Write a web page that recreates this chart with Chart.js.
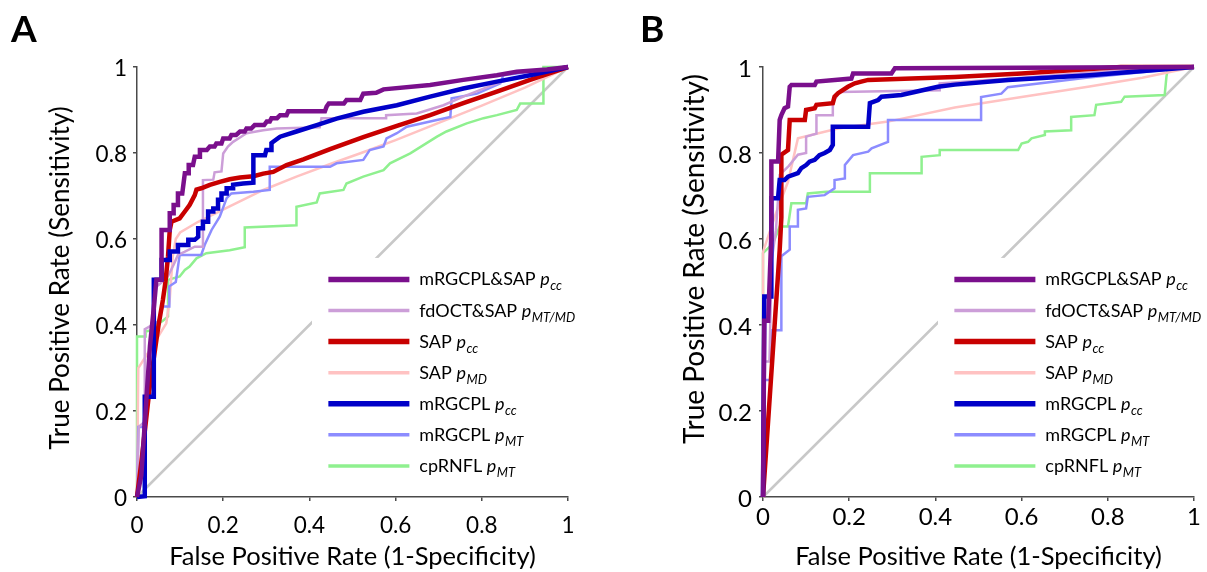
<!DOCTYPE html>
<html>
<head>
<meta charset="utf-8">
<script src="https://cdn.jsdelivr.net/npm/chart.js@4/dist/chart.umd.min.js"></script>
<style>
  html, body { margin: 0; padding: 0; background: #fff; }
  #wrap { position: relative; width: 1207px; height: 572px; overflow: hidden; }
  canvas { position: absolute; top: 0; }
</style>
</head>
<body>
<div id="wrap">
  <canvas id="chartA" width="603" height="572" style="left:0"></canvas>
  <canvas id="chartB" width="604" height="572" style="left:603px"></canvas>
</div>
<script>
// ---- data: [FPR, TPR] vertices ----
const tickLabels = ['0', '0.2', '0.4', '0.6', '0.8', '1'];
const legendNames = ['mRGCPL&SAP', 'fdOCT&SAP', 'SAP', 'SAP', 'mRGCPL', 'mRGCPL', 'cpRNFL'];
const legendSubs = ['cc', 'MT/MD', 'cc', 'MD', 'cc', 'MT', 'MT'];
const chance = [[0, 0], [1, 1]];

// panel A
const A_mrgcplSapPcc = [[0,0],[0.01,0.05],[0.02,0.2],[0.03,0.35],[0.04,0.45],[0.045,0.505],[0.057,0.505],[0.057,0.621],[0.076,0.621],[0.076,0.66],[0.085,0.66],[0.085,0.679],[0.095,0.679],[0.095,0.706],[0.105,0.706],[0.111,0.753],[0.12,0.753],[0.12,0.772],[0.13,0.772],[0.134,0.791],[0.146,0.791],[0.146,0.807],[0.162,0.807],[0.169,0.815],[0.18,0.815],[0.184,0.822],[0.196,0.822],[0.2,0.834],[0.215,0.834],[0.219,0.842],[0.23,0.842],[0.239,0.85],[0.25,0.85],[0.254,0.857],[0.265,0.857],[0.273,0.865],[0.295,0.865],[0.301,0.873],[0.308,0.873],[0.312,0.881],[0.325,0.881],[0.332,0.888],[0.347,0.888],[0.351,0.897],[0.436,0.897],[0.44,0.908],[0.445,0.915],[0.48,0.915],[0.486,0.923],[0.518,0.923],[0.525,0.938],[0.555,0.94],[0.572,0.948],[0.68,0.958],[0.757,0.97],[0.835,0.981],[0.881,0.989],[0.951,0.994],[1,1]];
const A_fdoctSapPmtmd = [[0,0],[0.004,0.163],[0.018,0.175],[0.018,0.39],[0.035,0.4],[0.04,0.46],[0.045,0.489],[0.07,0.51],[0.085,0.54],[0.095,0.563],[0.11,0.57],[0.134,0.582],[0.153,0.582],[0.153,0.737],[0.177,0.738],[0.18,0.755],[0.196,0.757],[0.2,0.799],[0.211,0.815],[0.223,0.826],[0.239,0.836],[0.254,0.846],[0.293,0.853],[0.324,0.857],[0.424,0.86],[0.428,0.881],[0.578,0.881],[0.578,0.888],[0.649,0.892],[0.711,0.911],[0.757,0.931],[0.835,0.962],[0.912,0.984],[1,1]];
const A_sapPcc = [[0,0],[0.01,0.08],[0.02,0.17],[0.03,0.26],[0.04,0.33],[0.05,0.4],[0.06,0.458],[0.066,0.5],[0.072,0.56],[0.076,0.621],[0.08,0.64],[0.099,0.648],[0.111,0.664],[0.122,0.679],[0.134,0.702],[0.138,0.715],[0.149,0.718],[0.169,0.726],[0.192,0.733],[0.215,0.739],[0.239,0.743],[0.27,0.746],[0.293,0.752],[0.316,0.756],[0.347,0.772],[0.386,0.785],[0.448,0.809],[0.525,0.837],[0.603,0.863],[0.68,0.888],[0.757,0.916],[0.835,0.943],[0.912,0.97],[1,1]];
const A_sapPmd = [[0,0],[0.003,0.3],[0.035,0.35],[0.068,0.404],[0.076,0.46],[0.083,0.56],[0.09,0.6],[0.1,0.615],[0.142,0.64],[0.215,0.676],[0.293,0.714],[0.37,0.745],[0.45,0.775],[0.52,0.8],[0.6,0.83],[0.7,0.87],[0.8,0.91],[0.9,0.952],[1,1]];
const A_mrgcplPcc = [[0,0],[0.018,0.002],[0.018,0.233],[0.039,0.233],[0.039,0.505],[0.057,0.505],[0.057,0.551],[0.076,0.551],[0.076,0.571],[0.095,0.571],[0.095,0.586],[0.119,0.586],[0.119,0.598],[0.134,0.598],[0.142,0.605],[0.142,0.625],[0.153,0.625],[0.153,0.64],[0.165,0.64],[0.165,0.664],[0.177,0.664],[0.177,0.671],[0.188,0.671],[0.188,0.691],[0.196,0.691],[0.196,0.706],[0.208,0.706],[0.208,0.718],[0.223,0.718],[0.223,0.726],[0.246,0.729],[0.27,0.731],[0.27,0.795],[0.297,0.795],[0.3,0.807],[0.312,0.807],[0.312,0.823],[0.316,0.826],[0.332,0.838],[0.37,0.85],[0.417,0.865],[0.463,0.88],[0.525,0.896],[0.603,0.911],[0.68,0.931],[0.757,0.95],[0.835,0.966],[0.912,0.981],[1,1]];
const A_mrgcplPmt = [[0,0],[0.003,0.163],[0.018,0.163],[0.018,0.233],[0.03,0.24],[0.039,0.24],[0.039,0.4],[0.05,0.41],[0.06,0.443],[0.075,0.443],[0.075,0.49],[0.09,0.5],[0.099,0.563],[0.149,0.563],[0.157,0.586],[0.173,0.621],[0.192,0.652],[0.208,0.695],[0.219,0.706],[0.27,0.71],[0.308,0.714],[0.308,0.768],[0.448,0.768],[0.463,0.776],[0.525,0.784],[0.54,0.807],[0.572,0.815],[0.579,0.834],[0.603,0.846],[0.626,0.861],[0.727,0.884],[0.73,0.927],[0.789,0.938],[0.843,0.962],[0.85,0.981],[0.943,0.993],[1,1]];
const A_cprnflPmt = [[0,0],[0,0.373],[0.02,0.373],[0.02,0.385],[0.045,0.39],[0.045,0.4],[0.06,0.41],[0.072,0.42],[0.072,0.505],[0.099,0.513],[0.111,0.528],[0.122,0.536],[0.138,0.555],[0.161,0.567],[0.215,0.574],[0.25,0.581],[0.25,0.627],[0.37,0.632],[0.37,0.675],[0.417,0.685],[0.424,0.706],[0.479,0.714],[0.486,0.729],[0.525,0.745],[0.572,0.76],[0.587,0.776],[0.634,0.799],[0.696,0.838],[0.718,0.85],[0.765,0.869],[0.804,0.881],[0.835,0.888],[0.881,0.9],[0.889,0.915],[0.943,0.915],[0.943,1],[1,1]];

// panel B
const B_mrgcplSapPcc = [[0,0],[0.003,0.41],[0.012,0.41],[0.019,0.6],[0.0194,0.78],[0.035,0.78],[0.0387,0.877],[0.0426,0.888],[0.05,0.904],[0.058,0.908],[0.062,0.954],[0.066,0.958],[0.12,0.958],[0.124,0.966],[0.205,0.973],[0.209,0.985],[0.298,0.985],[0.306,0.997],[0.6,0.998],[1,1]];
const B_fdoctSapPmtmd = [[0,0],[0.003,0.315],[0.015,0.315],[0.02,0.55],[0.03,0.62],[0.0387,0.749],[0.06,0.77],[0.081,0.796],[0.1,0.8],[0.1,0.838],[0.124,0.845],[0.124,0.888],[0.162,0.888],[0.162,0.919],[0.178,0.942],[0.41,0.946],[0.41,0.962],[0.6,0.975],[0.8,0.99],[1,1]];
const B_sapPcc = [[0,0],[0.0387,0.574],[0.0426,0.65],[0.0426,0.796],[0.058,0.807],[0.062,0.877],[0.097,0.877],[0.1,0.9],[0.12,0.904],[0.124,0.912],[0.162,0.916],[0.166,0.931],[0.174,0.939],[0.197,0.954],[0.213,0.962],[0.228,0.966],[0.244,0.97],[0.445,0.977],[0.6,0.985],[0.83,1],[1,1]];
const B_sapPmd = [[0,0],[0,0.57],[0.03,0.66],[0.058,0.733],[0.081,0.834],[0.112,0.842],[0.174,0.857],[0.29,0.873],[0.445,0.906],[0.6,0.93],[0.754,0.954],[0.88,0.975],[1,1]];
const B_mrgcplPcc = [[0,0],[0.003,0.466],[0.0194,0.466],[0.0194,0.695],[0.0349,0.695],[0.0387,0.737],[0.05,0.737],[0.058,0.745],[0.081,0.753],[0.089,0.765],[0.1,0.772],[0.108,0.78],[0.12,0.784],[0.131,0.795],[0.143,0.8],[0.155,0.807],[0.162,0.819],[0.162,0.861],[0.244,0.861],[0.248,0.916],[0.267,0.923],[0.275,0.931],[0.321,0.935],[0.352,0.942],[0.406,0.954],[0.445,0.959],[0.569,0.97],[0.757,0.981],[1,1]];
const B_mrgcplPmt = [[0,0],[0.003,0.272],[0.0194,0.272],[0.0194,0.388],[0.0426,0.388],[0.0426,0.56],[0.062,0.575],[0.062,0.629],[0.081,0.629],[0.081,0.668],[0.1,0.671],[0.104,0.698],[0.143,0.702],[0.166,0.718],[0.166,0.737],[0.19,0.741],[0.19,0.772],[0.209,0.795],[0.244,0.803],[0.252,0.811],[0.29,0.826],[0.29,0.877],[0.506,0.877],[0.506,0.93],[0.553,0.938],[0.568,0.953],[0.75,0.975],[1,1]];
const B_cprnflPmt = [[0,0],[0,0.567],[0.0233,0.59],[0.0387,0.629],[0.058,0.629],[0.0658,0.683],[0.1,0.683],[0.104,0.706],[0.147,0.71],[0.248,0.71],[0.248,0.753],[0.368,0.753],[0.368,0.791],[0.41,0.795],[0.41,0.807],[0.592,0.807],[0.6,0.822],[0.615,0.826],[0.623,0.834],[0.654,0.842],[0.654,0.85],[0.715,0.853],[0.715,0.884],[0.769,0.888],[0.773,0.912],[0.831,0.919],[0.839,0.931],[0.932,0.935],[0.936,0.977],[0.94,1],[1,1]];

// ---- styles, in legend order ----
const colors = ['#7a0f8c', '#cc9ed8', '#c80000', '#ffc2c2', '#0000c8', '#8c8cff', '#8ff08f'];
const widths = [4.5, 2.5, 4.5, 2.5, 4.5, 2.5, 2.5];
const drawOrder = [0, 4, 2, 1, 5, 3, 6]; // first = on top
const FONT = 'Lato, "Open Sans", sans-serif';

const rocDecor = {
  id: 'rocDecor',
  afterDatasetsDraw(chart, args, o) {
    const { ctx, chartArea: ca, scales: { x, y } } = chart;
    ctx.save();
    // white legend box, hides the chance line behind it
    const bx = x.getPixelForValue(0.406), by = y.getPixelForValue(0.556);
    ctx.fillStyle = '#fff';
    ctx.fillRect(bx, by, chart.width - bx, ca.bottom - 2 - by);

    const x0 = x.getPixelForValue(0.444), x1 = x.getPixelForValue(0.632), tx = x.getPixelForValue(0.655);
    legendNames.forEach((name, i) => {
      const ry = y.getPixelForValue(0.506 - i * 0.0723);
      ctx.strokeStyle = colors[i];
      ctx.lineWidth = widths[i] + 1;
      ctx.beginPath(); ctx.moveTo(x0, ry); ctx.lineTo(x1, ry); ctx.stroke();
      ctx.fillStyle = '#000';
      ctx.textBaseline = 'alphabetic';
      ctx.textAlign = 'left';
      ctx.font = '18px ' + FONT;
      const base = name + ' ';
      ctx.fillText(base, tx, ry + 6);
      let w = ctx.measureText(base).width;
      ctx.font = 'italic 18px ' + FONT;
      ctx.fillText('p', tx + w, ry + 6);
      w += ctx.measureText('p').width;
      ctx.font = 'italic 13px ' + FONT;
      ctx.fillText(legendSubs[i], tx + w + 0.5, ry + 11);
    });

    // panel letter
    ctx.font = 'bold 37px ' + FONT;
    ctx.fillStyle = '#000';
    ctx.fillText(o.tag, o.tagX, 42);

    // y axis title
    ctx.translate(o.yTitleX, o.yTitleY);
    ctx.rotate(-Math.PI / 2);
    ctx.textAlign = 'center';
    ctx.font = o.yTitleSize + 'px ' + FONT;
    ctx.fillText('True Positive Rate (Sensitivity)', 0, 0);
    ctx.restore();
  }
};

function rocChart(id, sets, p) {
  const datasets = drawOrder.map(i => ({
    data: sets[i].map(([fx, ty]) => ({ x: fx, y: ty })),
    borderColor: colors[i],
    borderWidth: widths[i],
    pointRadius: 0,
    tension: 0,
    fill: false,
    clip: 6
  }));
  datasets.push({
    data: chance.map(([fx, ty]) => ({ x: fx, y: ty })),
    borderColor: '#c8c8c8', borderWidth: 2.5, pointRadius: 0, fill: false, clip: 6
  });
  const axisLine = { drawOnChartArea: false, drawTicks: true, tickLength: 4, color: '#4a4a4a', lineWidth: 1.5 };
  return new Chart(document.getElementById(id), {
    type: 'line',
    data: { datasets },
    options: {
      responsive: false,
      animation: false,
      devicePixelRatio: 1,
      layout: { padding: { left: 0, top: 67, right: p.padRight, bottom: 0 } },
      plugins: { legend: { display: false }, tooltip: { enabled: false }, rocDecor: p.decor },
      scales: {
        x: {
          type: 'linear', min: 0, max: 1,
          ticks: { stepSize: 0.2, maxRotation: 0, padding: p.xTickPad, color: '#000',
                   font: { family: FONT, size: p.tickSize }, callback: v => tickLabels[Math.round(v * 5)] },
          grid: axisLine,
          border: { color: '#4a4a4a', width: 1.5 },
          title: { display: true, text: 'False Positive Rate (1-Specificity)', color: '#000',
                   font: { family: FONT, size: 25.5 }, padding: { top: 0, bottom: 0 } },
          afterFit: s => { s.height = 75; }
        },
        y: {
          type: 'linear', min: 0, max: 1,
          ticks: { stepSize: 0.2, padding: p.yTickPad, labelOffset: 2, color: '#000',
                   font: { family: FONT, size: p.tickSize }, callback: v => tickLabels[Math.round(v * 5)] },
          grid: axisLine,
          border: { color: '#4a4a4a', width: 1.5 },
          afterFit: s => { s.width = p.yWidth; }
        }
      }
    },
    plugins: [rocDecor]
  });
}

rocChart('chartA',
  [A_mrgcplSapPcc, A_fdoctSapPmtmd, A_sapPcc, A_sapPmd, A_mrgcplPcc, A_mrgcplPmt, A_cprnflPmt],
  { padRight: 35, yWidth: 137, xTickPad: 11, yTickPad: 6, tickSize: 22.5,
    decor: { tag: 'A', tagX: 11, yTitleX: 69, yTitleY: 278, yTitleSize: 26 } });

rocChart('chartB',
  [B_mrgcplSapPcc, B_fdoctSapPmtmd, B_sapPcc, B_sapPmd, B_mrgcplPcc, B_mrgcplPmt, B_cprnflPmt],
  { padRight: 13, yWidth: 160, xTickPad: 2, yTickPad: 7, tickSize: 24,
    decor: { tag: 'B', tagX: 37, yTitleX: 101, yTitleY: 259, yTitleSize: 28 } });
</script>
</body>
</html>
